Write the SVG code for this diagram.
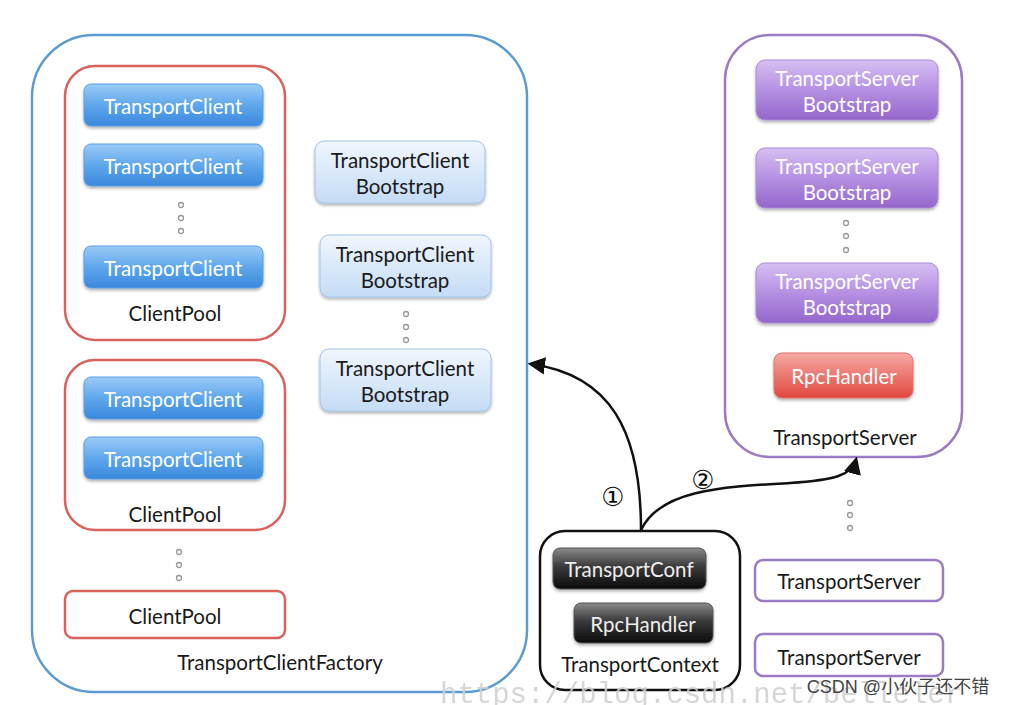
<svg xmlns="http://www.w3.org/2000/svg" width="1009" height="705" viewBox="0 0 1009 705">
<defs>
<linearGradient id="gBlue" x1="0" y1="0" x2="0" y2="1"><stop offset="0" stop-color="#9ccbf7"/><stop offset="0.5" stop-color="#5fa7ec"/><stop offset="1" stop-color="#3a88dc"/></linearGradient>
<linearGradient id="gLight" x1="0" y1="0" x2="0" y2="1"><stop offset="0" stop-color="#f0f6fd"/><stop offset="1" stop-color="#c4dcf6"/></linearGradient>
<linearGradient id="gPurple" x1="0" y1="0" x2="0" y2="1"><stop offset="0" stop-color="#d6bff2"/><stop offset="0.5" stop-color="#b590e2"/><stop offset="1" stop-color="#9466cc"/></linearGradient>
<linearGradient id="gRed" x1="0" y1="0" x2="0" y2="1"><stop offset="0" stop-color="#f6aaa4"/><stop offset="1" stop-color="#e0473e"/></linearGradient>
<linearGradient id="gDark" x1="0" y1="0" x2="0" y2="1"><stop offset="0" stop-color="#8a8a8a"/><stop offset="0.45" stop-color="#3a3a3a"/><stop offset="1" stop-color="#0a0a0a"/></linearGradient>
<filter id="sh" x="-10%" y="-20%" width="120%" height="150%"><feDropShadow dx="0" dy="2" stdDeviation="1.5" flood-color="#000" flood-opacity="0.3"/></filter>
<marker id="arr" viewBox="0 0 10 10" refX="8" refY="5" markerWidth="7" markerHeight="7" orient="auto-start-reverse"><path d="M0,0 L10,5 L0,10 z" fill="#111"/></marker>
<style>
text{font-family:"Lato","Open Sans",sans-serif;text-anchor:middle;}
.w{fill:#fff;font-size:20.5px;}
.k{fill:#1a1a1a;font-size:20.5px;}
.btn{filter:url(#sh);}
.blue{fill:url(#gBlue);stroke:#5b9ee6;stroke-width:1;}
.light{fill:url(#gLight);stroke:#9fc3ea;stroke-width:1;}
.purple{fill:url(#gPurple);stroke:#a88bd2;stroke-width:1;}
.red{fill:url(#gRed);stroke:#e0706a;stroke-width:1;}
.dark{fill:url(#gDark);stroke:#555;stroke-width:1;}
.pool{fill:#fff;stroke:#d9625c;stroke-width:2.5;}
.dot{fill:#fff;stroke:#999;stroke-width:1.3;}
.conn{fill:none;stroke:#111;stroke-width:2.5;}
</style>
</defs>
<rect width="1009" height="705" fill="#fff"/>

<g id="TransportClientFactory">
<rect x="32" y="35" width="495" height="657" rx="62" fill="none" stroke="#5b9bd5" stroke-width="2.5"/>
<text class="k" x="280" y="670">TransportClientFactory</text>
</g>

<g id="ClientPool1">
<rect class="pool" x="65" y="66" width="220" height="274" rx="30"/>
<rect class="btn blue" x="84" y="84" width="179" height="42" rx="7"/>
<text class="w" x="173" y="114">TransportClient</text>
<rect class="btn blue" x="84" y="144" width="179" height="42" rx="7"/>
<text class="w" x="173" y="174">TransportClient</text>
<circle class="dot" cx="181" cy="205" r="2.5"/><circle class="dot" cx="181" cy="218" r="2.5"/><circle class="dot" cx="181" cy="231" r="2.5"/>
<rect class="btn blue" x="84" y="246" width="179" height="42" rx="7"/>
<text class="w" x="173" y="276">TransportClient</text>
<text class="k" x="175" y="321">ClientPool</text>
</g>

<g id="ClientPool2">
<rect class="pool" x="65" y="360" width="220" height="170" rx="30"/>
<rect class="btn blue" x="84" y="377" width="179" height="42" rx="7"/>
<text class="w" x="173" y="407">TransportClient</text>
<rect class="btn blue" x="84" y="437" width="179" height="42" rx="7"/>
<text class="w" x="173" y="467">TransportClient</text>
<text class="k" x="175" y="522">ClientPool</text>
</g>

<g id="poolDots">
<circle class="dot" cx="179" cy="552" r="2.5"/><circle class="dot" cx="179" cy="565" r="2.5"/><circle class="dot" cx="179" cy="578" r="2.5"/>
</g>

<g id="ClientPool3">
<rect class="pool" x="65" y="591" width="220" height="47" rx="8"/>
<text class="k" x="175" y="624">ClientPool</text>
</g>

<g id="Bootstrap1">
<rect class="btn light" x="315" y="141" width="170" height="62" rx="9"/>
<text class="k" x="400" y="168">TransportClient</text>
<text class="k" x="400" y="194">Bootstrap</text>
</g>
<g id="Bootstrap2">
<rect class="btn light" x="320" y="235" width="171" height="62" rx="9"/>
<text class="k" x="405" y="262">TransportClient</text>
<text class="k" x="405" y="288">Bootstrap</text>
</g>
<g id="bootDots">
<circle class="dot" cx="406" cy="314" r="2.5"/><circle class="dot" cx="406" cy="327" r="2.5"/><circle class="dot" cx="406" cy="340" r="2.5"/>
</g>
<g id="Bootstrap3">
<rect class="btn light" x="320" y="349" width="171" height="62" rx="9"/>
<text class="k" x="405" y="376">TransportClient</text>
<text class="k" x="405" y="402">Bootstrap</text>
</g>

<g id="TransportServerMain">
<rect x="725" y="35" width="237" height="422" rx="45" fill="none" stroke="#9b7bc4" stroke-width="2.5"/>
<text class="k" x="845" y="445">TransportServer</text>
</g>
<g id="ServerBootstrap1">
<rect class="btn purple" x="756" y="60" width="182" height="60" rx="9"/>
<text class="w" x="847" y="86">TransportServer</text>
<text class="w" x="847" y="112">Bootstrap</text>
</g>
<g id="ServerBootstrap2">
<rect class="btn purple" x="756" y="148" width="182" height="60" rx="9"/>
<text class="w" x="847" y="174">TransportServer</text>
<text class="w" x="847" y="200">Bootstrap</text>
</g>
<g id="serverDots">
<circle class="dot" cx="846" cy="223" r="2.5"/><circle class="dot" cx="846" cy="236" r="2.5"/><circle class="dot" cx="846" cy="250" r="2.5"/>
</g>
<g id="ServerBootstrap3">
<rect class="btn purple" x="756" y="263" width="182" height="60" rx="9"/>
<text class="w" x="847" y="289">TransportServer</text>
<text class="w" x="847" y="315">Bootstrap</text>
</g>
<g id="ServerRpcHandler">
<rect class="btn red" x="774" y="353" width="139" height="45" rx="8"/>
<text class="w" x="844" y="384">RpcHandler</text>
</g>

<g id="moreServerDots">
<circle class="dot" cx="850" cy="503" r="2.5"/><circle class="dot" cx="850" cy="515" r="2.5"/><circle class="dot" cx="850" cy="528" r="2.5"/>
</g>
<g id="TransportServer2">
<rect x="755" y="560" width="188" height="41" rx="8" fill="#fff" stroke="#9b7bc4" stroke-width="2.5"/>
<text class="k" x="849" y="589">TransportServer</text>
</g>
<g id="TransportServer3">
<rect x="755" y="634" width="188" height="42" rx="8" fill="#fff" stroke="#9b7bc4" stroke-width="2.5"/>
<text class="k" x="849" y="665">TransportServer</text>
</g>

<g id="TransportContext">
<rect x="540" y="531" width="200" height="159" rx="25" fill="#fff" stroke="#111" stroke-width="2.5"/>
<rect class="btn dark" x="553" y="548" width="153" height="41" rx="7"/>
<text x="629" y="577" style="fill:#eee;font-size:20.5px">TransportConf</text>
<rect class="btn dark" x="574" y="603" width="139" height="40" rx="7"/>
<text x="643" y="632" style="fill:#eee;font-size:20.5px">RpcHandler</text>
<text class="k" x="640" y="672">TransportContext</text>
</g>

<g id="connectors">
<path class="conn" d="M641,530 C641,430 610,375 531,364" marker-end="url(#arr)"/>
<path class="conn" d="M641,530 C660,490 720,487 790,483 C835,480 852,475 856,460" marker-end="url(#arr)"/>
<text x="613" y="506" style="fill:#111;font-size:26px;font-family:'DejaVu Sans',sans-serif">①</text>
<text x="703" y="489" style="fill:#111;font-size:26px;font-family:'DejaVu Sans',sans-serif">②</text>
</g>

<g id="watermark">
<text x="440" y="703" style="text-anchor:start;fill:#cfcfcf;font-size:29px;font-family:'Liberation Mono',monospace;opacity:0.85">https://blog.csdn.net/belleler</text>
<text x="898" y="693" style="fill:#444;font-size:18px;font-family:'Liberation Sans','Noto Sans CJK SC',sans-serif">CSDN @小伙子还不错</text>
</g>
</svg>
